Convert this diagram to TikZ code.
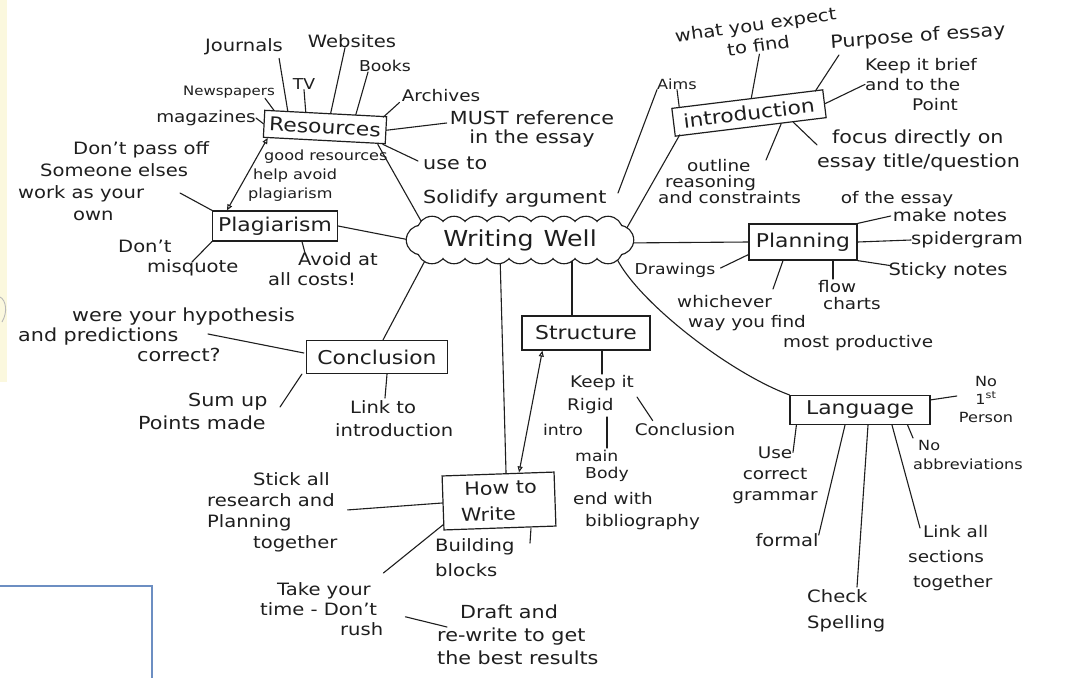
\documentclass[tikz,border=0pt]{standalone}
\usepackage{fontspec}
\setmainfont{DejaVu Sans}[FakeStretch=1.15]
\usetikzlibrary{calc,arrows.meta}
\definecolor{ink}{HTML}{1E1E1E}
\definecolor{cream}{HTML}{FBF8DE}
\definecolor{frameblue}{HTML}{6C8EC2}
\pgfdeclarelayer{bg}
\pgfsetlayers{bg,main}

\begin{document}
\begin{tikzpicture}[x=1pt,y=-1pt,
  leaf/.style={inner sep=0pt, text=ink, align=left, font=\fontsize{17}{21}\selectfont},
  tinyleaf/.style={font=\fontsize{13}{15}\selectfont},
  topic/.style={draw=ink, line width=1.2pt, text=ink, inner sep=0pt, font=\fontsize{19}{22}\selectfont},
  link/.style={draw=ink, line width=1.1pt, line cap=round},
  twoway/.style={link, {Triangle[open,length=6pt,width=5pt]}-{Triangle[open,length=6pt,width=5pt]}},
  puff/.style={draw=ink, line width=2.6pt}
]

\begin{pgfonlayer}{bg}
  \fill[white] (0,0) rectangle (1073,678);
\end{pgfonlayer}
\useasboundingbox (0,0) rectangle (1073,678);

% strip of paper on the left edge and the framed corner at the bottom left
\fill[cream] (0,0) rectangle (7,382);
\draw[gray!55, line width=0.9pt] (0,297) .. controls (6,300) and (8,312) .. (2,322);
\draw[frameblue, line width=1.6pt] (0,586) -- (152,586) -- (152,678);

% central cloud: stroked puffs, then filled white so only the outer rim stays
\coordinate (wwc) at (520,240);
\foreach \dx in {-88,-66,...,88} {
  \draw[puff] ($(wwc)+(\dx,-9)$) circle[radius=14];
  \draw[puff] ($(wwc)+(\dx,9)$) circle[radius=14];
}
\draw[puff] ($(wwc)+(-99,0)$) circle[radius=14];
\draw[puff] ($(wwc)+(99,0)$) circle[radius=14];
\foreach \dx in {-88,-66,...,88} {
  \fill[white] ($(wwc)+(\dx,-9)$) circle[radius=14];
  \fill[white] ($(wwc)+(\dx,9)$) circle[radius=14];
}
\fill[white] ($(wwc)+(-99,0)$) circle[radius=14];
\fill[white] ($(wwc)+(99,0)$) circle[radius=14];
\fill[white] ($(wwc)+(-99,-9)$) rectangle ($(wwc)+(99,9)$);
\node[text=ink, inner sep=0pt, font=\fontsize{22}{24}\selectfont] (ww) at (wwc) {Writing\hspace{10pt}Well};

% ---------- Resources ----------
\node[topic, rotate=-3, minimum width=122pt, minimum height=27pt] (res) at (325,127) {Resources};
\node[leaf] (journals) at (244,47) {Journals};
\node[leaf] (websites) at (352,41) {Websites};
\node[leaf, font=\fontsize{15}{17}\selectfont] (books) at (385,66) {Books};
\node[leaf, font=\fontsize{15}{17}\selectfont] (tv) at (304,84) {TV};
\node[leaf, tinyleaf] (news) at (229,92) {Newspapers};
\node[leaf, font=\fontsize{16}{18}\selectfont] (archives) at (441,96) {Archives};
\node[leaf, font=\fontsize{16}{18}\selectfont] (mags) at (206,118) {magazines};
\node[leaf, align=center, font=\fontsize{18}{19}\selectfont] (must) at (532,129) {MUST reference\\in the essay};
\node[leaf, anchor=north west, font=\fontsize{18}{34}\selectfont] (useto) at (423,157) {use to\\Solidify argument};
\node[leaf, anchor=north west, font=\fontsize{14}{19}\selectfont] (goodres) at (248,150) {\hspace*{16pt}good resources\\\hspace*{5pt}help avoid\\plagiarism};

% ---------- Plagiarism ----------
\node[topic, minimum width=125pt, minimum height=30pt] (plag) at (275,226) {Plagiarism};
\node[leaf, anchor=north west, font=\fontsize{17}{22}\selectfont] (passoff) at (18,141) {\hspace*{55pt}Don't pass off\\\hspace*{22pt}Someone elses\\work as your\\\hspace*{55pt}own};
\node[leaf, anchor=north west, font=\fontsize{17}{20}\selectfont] (misq) at (118,240) {Don't\\\hspace*{29pt}misquote};
\node[leaf, anchor=north west, font=\fontsize{17}{20}\selectfont] (avoid) at (268,252) {\hspace*{30pt}Avoid at\\all costs!};

% ---------- Introduction ----------
\node[topic, rotate=7, minimum width=152pt, minimum height=28pt] (intro) at (749,113) {introduction};
\node[leaf, font=\fontsize{14}{16}\selectfont] (aims) at (677,84) {Aims};
\coordinate (aimstail) at (618,193);
\node[leaf, align=center, rotate=8, font=\fontsize{17}{21}\selectfont] (expect) at (757,35) {what you expect\\to find};
\node[leaf, rotate=4, font=\fontsize{18}{20}\selectfont] (purpose) at (918,37) {Purpose of essay};
\node[leaf, anchor=north west, font=\fontsize{16}{20}\selectfont] (brief) at (865,58) {Keep it brief\\and to the\\\hspace*{47pt}Point};
\node[leaf, anchor=north west, font=\fontsize{18}{24}\selectfont] (focus) at (817,130) {\hspace*{15pt}focus directly on\\essay title/question};
\node[leaf, anchor=north west, font=\fontsize{16}{16}\selectfont] (outline) at (658,159) {\hspace*{29pt}outline\\\hspace*{7pt}reasoning\\and constraints\hspace*{40pt}of the essay};

% ---------- Planning ----------
\node[topic, minimum width=108pt, minimum height=36pt] (plan) at (803,242) {Planning};
\node[leaf] (notes) at (950,215) {make notes};
\node[leaf] (spider) at (967,240) {spidergram};
\node[leaf] (sticky) at (948,271) {Sticky notes};
\node[leaf, anchor=north west, font=\fontsize{16}{17}\selectfont] (flow) at (818,280) {flow\\\hspace*{5pt}charts};
\node[leaf, font=\fontsize{15}{17}\selectfont] (drawings) at (675,270) {Drawings};
\node[leaf, anchor=north west, font=\fontsize{16}{20}\selectfont] (which) at (677,295) {whichever\\\hspace*{11pt}way you find\\\hspace*{106pt}most productive};

% ---------- Structure ----------
\node[topic, minimum width=128pt, minimum height=34pt] (struct) at (586,333) {Structure};
\node[leaf, anchor=north west, font=\fontsize{16}{23}\selectfont] (rigid) at (567,375) {\hspace*{3pt}Keep it\\Rigid};
\node[leaf, font=\fontsize{15}{17}\selectfont] (sintro) at (563,430) {intro};
\node[leaf, font=\fontsize{16}{17}\selectfont] (sconcl) at (685,430) {Conclusion};
\node[leaf, anchor=north west, font=\fontsize{15}{17}\selectfont] (mainbody) at (575,450) {main\\\hspace*{10pt}Body};
\node[leaf, anchor=north west, font=\fontsize{16}{22}\selectfont] (biblio) at (573,492) {end with\\\hspace*{12pt}bibliography};

% ---------- Conclusion ----------
\node[topic, minimum width=141pt, minimum height=33pt] (concl) at (377,357) {Conclusion};
\node[leaf, anchor=north west, font=\fontsize{18}{20}\selectfont] (hypo) at (18,308) {\hspace*{54pt}were your hypothesis\\and predictions\\\hspace*{119pt}correct?};
\node[leaf, anchor=north west, font=\fontsize{18}{23}\selectfont] (sumup) at (138,393) {\hspace*{50pt}Sum up\\Points made};
\node[leaf, anchor=north west, font=\fontsize{17}{23}\selectfont] (linkto) at (335,400) {\hspace*{15pt}Link to\\introduction};

% ---------- How to Write ----------
\node[topic, rotate=2, minimum width=112pt, minimum height=54pt, align=left, font=\fontsize{18}{26}\selectfont] (howto) at (499,501) {\hspace*{4pt}How to\\Write};
\node[leaf, anchor=north west, font=\fontsize{17}{25}\selectfont] (blocks) at (435,538) {Building\\blocks};
\node[leaf, anchor=north west] (stick) at (207,472) {\hspace*{46pt}Stick all\\research and\\Planning\\\hspace*{46pt}together};
\node[leaf, anchor=north west, font=\fontsize{17}{20}\selectfont] (take) at (260,582) {\hspace*{17pt}Take your\\time - Don't\\\hspace*{80pt}rush};
\node[leaf, anchor=north west, font=\fontsize{18}{23}\selectfont] (draft) at (437,605) {\hspace*{23pt}Draft and\\re-write to get\\the best results};

% ---------- Language ----------
\node[topic, minimum width=140pt, minimum height=29pt] (lang) at (860,410) {Language};
\node[leaf, align=center, font=\fontsize{14}{18}\selectfont] (nofirst) at (986,399) {No\\1\textsuperscript{st}\\Person};
\node[leaf, anchor=north west, font=\fontsize{14}{19}\selectfont] (abbr) at (913,440) {\hspace*{5pt}No\\abbreviations};
\node[leaf, align=center, font=\fontsize{16}{21}\selectfont] (grammar) at (775,475) {Use\\correct\\grammar};
\node[leaf] (formal) at (787,540) {formal};
\node[leaf, anchor=north west, font=\fontsize{17}{26}\selectfont] (check) at (807,589) {Check\\Spelling};
\node[leaf, anchor=north west, font=\fontsize{16}{25}\selectfont] (linkall) at (908,525) {\hspace*{15pt}Link all\\sections\\\hspace*{5pt}together};

% ---------- connectors ----------
\begin{pgfonlayer}{bg}
  % Resources
  \draw[link] ($(res.north)+(-38,-2)$) -- ($(journals.south east)+(-4,3)$);
  \draw[link] ($(res.north)+(-20,-1)$) -- (tv.south);
  \draw[link] ($(res.north)+(5,0)$) -- ($(websites.south)+(-7,0)$);
  \draw[link] ($(res.north)+(30,2)$) -- ($(books.south)+(-17,0)$);
  \draw[link] ($(res.north east)+(-4,1)$) -- ($(archives.south west)+(-2,0)$);
  \draw[link] ($(res.north west)+(10,1)$) -- ($(news.south east)+(-10,0)$);
  \draw[link] (mags.east) -- (res.west);
  \draw[link] (res.east) -- ($(must.west)+(-3,-6)$);
  \draw[link] ($(res.south east)+(-3,0)$) -- ($(useto.north west)+(-5,4)$);
  \draw[twoway] ($(res.south west)+(5,0)$) -- ($(plag.north west)+(15,0)$);
  \draw[link] ($(res.south east)+(-8,0)$) -- ($(ww.center)+(-95,-12)$);
  % Plagiarism
  \draw[link] (plag.east) -- ($(ww.center)+(-100,2)$);
  \draw[link] ($(passoff.north west)+(162,52)$) -- ($(plag.north west)+(2,1)$);
  \draw[link] (plag.south west) -- ($(misq.north west)+(74,22)$);
  \draw[link] ($(plag.south)+(27,0)$) -- ($(avoid.north west)+(37,1)$);
  % cloud to the other topics
  \draw[link] ($(ww.center)+(-92,15)$) -- ($(concl.north)+(6,0)$);
  \draw[link] ($(ww.center)+(-20,15)$) -- ($(howto.north)+(8,0)$);
  \draw[link] ($(ww.center)+(52,15)$) -- ($(struct.north)+(-14,0)$);
  \draw[link] ($(ww.center)+(100,0)$) -- ($(intro.south west)+(5,-2)$);
  \draw[link] ($(ww.center)+(100,3)$) -- (plan.west);
  \draw[link] ($(ww.center)+(95,15)$) .. controls ($(ww.center)+(115,60)$) and ($(lang.north west)+(-60,-22)$) .. (lang.north west);
  % Introduction
  \draw[link] (aims.south) -- ($(intro.north west)+(8,-1)$);
  \draw[link] (aims.south west) -- (aimstail);
  \draw[link] ($(intro.north)+(4,0)$) -- ($(expect.south)+(0,2)$);
  \draw[link] ($(intro.north east)+(-8,2)$) -- ($(purpose.south west)+(8,3)$);
  \draw[link] (intro.east) -- (brief.west);
  \draw[link] ($(intro.south east)!0.22!(intro.south west)$) -- ($(focus.west)+(0,-6)$);
  \draw[link] ($(intro.south east)!0.3!(intro.south west)$) -- ($(outline.north west)+(108,1)$);
  % Planning
  \draw[link] (plan.north east) -- ($(notes.west)+(-2,1)$);
  \draw[link] (plan.east) -- (spider.west);
  \draw[link] (plan.south east) -- ($(sticky.north west)+(2,3)$);
  \draw[link] ($(plan.south)+(30,0)$) -- ($(flow.north west)+(15,-1)$);
  \draw[link] ($(plan.south west)+(0,-6)$) -- ($(drawings.east)+(5,-2)$);
  \draw[link] ($(plan.south)+(-20,0)$) -- ($(which.north west)+(96,-6)$);
  % Structure
  \draw[link] ($(struct.south)+(16,0)$) -- ($(rigid.north west)+(35,-1)$);
  \draw[link] ($(rigid.north west)+(70,22)$) -- ($(sconcl.north west)+(18,-3)$);
  \draw[link] ($(rigid.north west)+(40,42)$) -- ($(mainbody.north west)+(32,-2)$);
  \draw[twoway] ($(struct.south west)+(21,0)$) -- ($(howto.north)+(21,-1)$);
  % How to Write
  \draw[link] (howto.west) -- ($(stick.east)+(10,-2)$);
  \draw[link] ($(howto.south west)+(0,-6)$) -- ($(take.north east)+(0,-9)$);
  \draw[link] ($(howto.south)+(31,0)$) -- ($(blocks.north west)+(95,5)$);
  \draw[link] ($(take.east)+(22,8)$) -- ($(draft.north west)+(10,22)$);
  % Conclusion
  \draw[link] ($(concl.west)+(-2,-4)$) -- ($(hypo.north west)+(190,26)$);
  \draw[link] ($(concl.south west)+(-4,0)$) -- ($(sumup.north west)+(142,14)$);
  \draw[link] ($(concl.south)+(10,0)$) -- ($(linkto.north west)+(50,-2)$);
  % Language
  \draw[link] ($(lang.north east)+(0,5)$) -- ($(nofirst.west)+(-2,-3)$);
  \draw[link] ($(lang.south east)+(-23,0)$) -- ($(abbr.north west)+(0,-2)$);
  \draw[link] ($(lang.south west)+(7,0)$) -- ($(grammar.north)+(18,6)$);
  \draw[link] ($(lang.south)+(-15,0)$) -- ($(formal.east)+(0,-5)$);
  \draw[link] ($(lang.south)+(8,0)$) -- ($(check.north west)+(50,-2)$);
  \draw[link] ($(lang.south)+(32,0)$) -- ($(linkall.north west)+(12,3)$);
\end{pgfonlayer}

\end{tikzpicture}
\end{document}
